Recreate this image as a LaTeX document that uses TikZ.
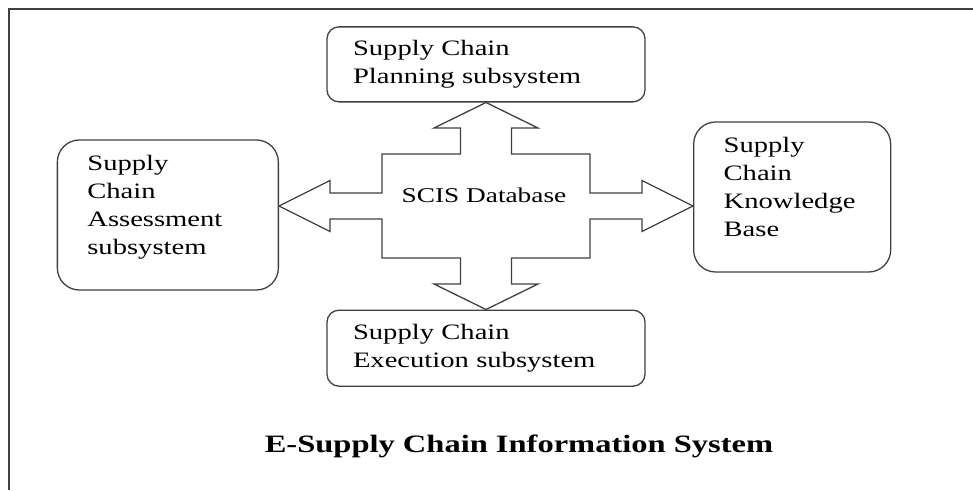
\documentclass[tikz,border=0pt]{standalone}
\usepackage{fontspec}
\setmainfont{Liberation Serif}[FakeStretch=1.3]
\usetikzlibrary{positioning}
\definecolor{LineGray}{HTML}{404040}

\begin{document}
\begin{tikzpicture}[x=1pt,y=-1pt,
  subsys/.style={draw=LineGray,line width=1.3pt,align=left,font=\fontsize{22}{28}\selectfont},
  hubarrow/.style={draw=LineGray,line width=1.3pt,line join=miter}]
  \useasboundingbox (0,0) rectangle (973,490);
  % outer frame (left and top edges only)
  \draw[LineGray,line width=2.4pt] (9,490) |- (973,9);

  \coordinate (hub) at (486,206);
  \node[font=\fontsize{21}{24}\selectfont] (db) at (484,195) {SCIS Database};

  \node[subsys,rounded corners=12pt,inner xsep=26pt,text width=266pt,minimum height=75pt,
        above=103.5pt of hub] (plan) {Supply Chain\\Planning subsystem};
  \node[subsys,rounded corners=12pt,inner xsep=26pt,text width=266pt,minimum height=76pt,
        below=103.5pt of hub] (exec) {Supply Chain\\Execution subsystem};
  % side boxes: text sits a little above the middle
  \node[subsys,rounded corners=22pt,inner xsep=30pt,text width=161pt,minimum height=150pt,
        left=207pt of hub,yshift=-9pt] (assess) {Supply\\Chain\\Assessment\\subsystem\\[-8pt]\mbox{}};
  \node[subsys,rounded corners=22pt,inner xsep=30pt,text width=137pt,minimum height=150pt,
        right=207pt of hub,yshift=9pt] (know) {Supply\\Chain\\Knowledge\\Base\\[-8pt]\mbox{}};

  % four-way block arrow round the database
  \draw[hubarrow,shift={(hub)}] (0,-103.5) -- (52,-78) -- (25.5,-78) -- (25.5,-52)
    -- (104,-52) -- (104,-13) -- (156,-13) -- (156,-25.5) -- (207,0)
    -- (156,25.5) -- (156,13) -- (104,13) -- (104,52) -- (25.5,52) -- (25.5,78)
    -- (52,78) -- (0,103.5) -- (-52,78) -- (-25.5,78) -- (-25.5,52) -- (-104,52)
    -- (-104,13) -- (-156,13) -- (-156,25.5) -- (-207,0) -- (-156,-25.5)
    -- (-156,-13) -- (-104,-13) -- (-104,-52) -- (-25.5,-52) -- (-25.5,-78)
    -- (-52,-78) -- cycle;

  \node[font=\fontsize{25}{28}\selectfont\bfseries] (title) at (519,446) {E-Supply Chain Information System};
\end{tikzpicture}
\end{document}
